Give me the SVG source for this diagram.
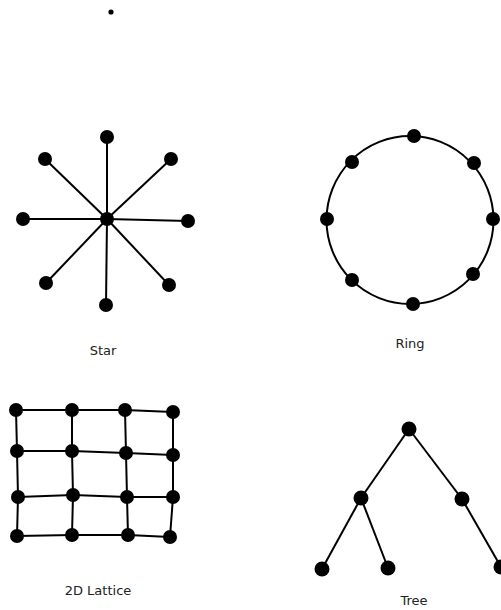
<svg xmlns="http://www.w3.org/2000/svg" width="501" height="610" viewBox="0 0 501 610">
<style>
.n{fill:#000}
.e{stroke:#000;stroke-width:2;fill:none}
.t{font-family:"DejaVu Sans",sans-serif;font-size:13px;fill:#222;text-anchor:middle}
</style>
<rect width="501" height="610" fill="#fff"/>
<g id="dot"><circle cx="111" cy="12" r="2.6" class="n"/></g>
<g id="connectors">
<g id="star-edges" class="e">
<line x1="107" y1="219" x2="107" y2="137"/>
<line x1="107" y1="219" x2="45" y2="159"/>
<line x1="107" y1="219" x2="171" y2="159"/>
<line x1="107" y1="219" x2="23" y2="219"/>
<line x1="107" y1="219" x2="188" y2="221"/>
<line x1="107" y1="219" x2="46" y2="283"/>
<line x1="107" y1="219" x2="106" y2="305"/>
<line x1="107" y1="219" x2="169" y2="285"/>
</g>
<g id="ring-edges" class="e">
<ellipse cx="410" cy="220" rx="83.5" ry="84"/>
</g>
<g id="lattice-edges" class="e">
<polyline points="16,410 72,410 125,410 173,412"/>
<polyline points="17,451 72,451 126,453 173,455"/>
<polyline points="18,497 73,495 127,497 173,497"/>
<polyline points="17,536 72,535 128,535 170,537"/>
<polyline points="16,410 17,451 18,497 17,536"/>
<polyline points="72,410 72,451 73,495 72,535"/>
<polyline points="125,410 126,453 127,497 128,535"/>
<polyline points="173,412 173,455 173,497 170,537"/>
</g>
<g id="tree-edges" class="e">
<line x1="409" y1="429" x2="361" y2="498"/>
<line x1="409" y1="429" x2="462" y2="499"/>
<line x1="361" y1="498" x2="322" y2="569"/>
<line x1="361" y1="498" x2="388" y2="568"/>
<line x1="462" y1="499" x2="501" y2="567"/>
</g>
</g>
<g id="star">
<circle cx="107" cy="219" r="7" class="n"/>
<circle cx="107" cy="137" r="7" class="n"/>
<circle cx="45" cy="159" r="7" class="n"/>
<circle cx="171" cy="159" r="7" class="n"/>
<circle cx="23" cy="219" r="7" class="n"/>
<circle cx="188" cy="221" r="7" class="n"/>
<circle cx="46" cy="283" r="7" class="n"/>
<circle cx="106" cy="305" r="7" class="n"/>
<circle cx="169" cy="285" r="7" class="n"/>
<text class="t" x="103" y="355">Star</text>
</g>
<g id="ring">
<circle cx="414" cy="136" r="7" class="n"/>
<circle cx="474" cy="163" r="7" class="n"/>
<circle cx="493" cy="219" r="7" class="n"/>
<circle cx="473" cy="274" r="7" class="n"/>
<circle cx="413" cy="304" r="7" class="n"/>
<circle cx="352" cy="280" r="7" class="n"/>
<circle cx="327" cy="219" r="7" class="n"/>
<circle cx="352" cy="162" r="7" class="n"/>
<text class="t" x="410" y="348">Ring</text>
</g>
<g id="lattice">
<circle cx="16" cy="410" r="7" class="n"/>
<circle cx="72" cy="410" r="7" class="n"/>
<circle cx="125" cy="410" r="7" class="n"/>
<circle cx="173" cy="412" r="7" class="n"/>
<circle cx="17" cy="451" r="7" class="n"/>
<circle cx="72" cy="451" r="7" class="n"/>
<circle cx="126" cy="453" r="7" class="n"/>
<circle cx="173" cy="455" r="7" class="n"/>
<circle cx="18" cy="497" r="7" class="n"/>
<circle cx="73" cy="495" r="7" class="n"/>
<circle cx="127" cy="497" r="7" class="n"/>
<circle cx="173" cy="497" r="7" class="n"/>
<circle cx="17" cy="536" r="7" class="n"/>
<circle cx="72" cy="535" r="7" class="n"/>
<circle cx="128" cy="535" r="7" class="n"/>
<circle cx="170" cy="537" r="7" class="n"/>
<text class="t" x="98" y="595">2D Lattice</text>
</g>
<g id="tree">
<circle cx="409" cy="429" r="7.5" class="n"/>
<circle cx="361" cy="498" r="7.5" class="n"/>
<circle cx="462" cy="499" r="7.5" class="n"/>
<circle cx="322" cy="569" r="7.5" class="n"/>
<circle cx="388" cy="568" r="7.5" class="n"/>
<circle cx="501" cy="567" r="7.5" class="n"/>
<text class="t" x="414" y="605">Tree</text>
</g>
</svg>
